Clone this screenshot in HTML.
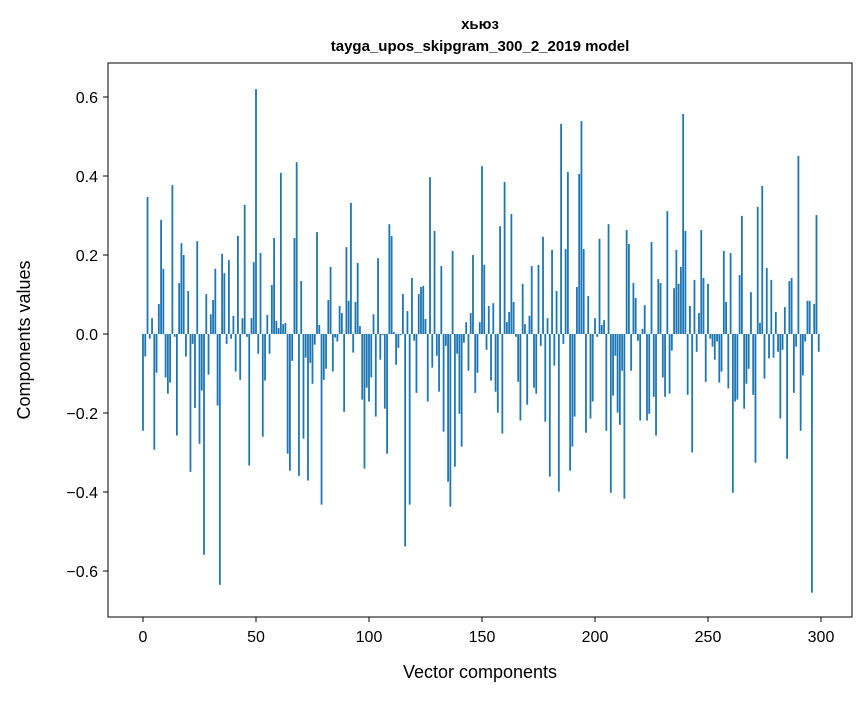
<!DOCTYPE html>
<html><head><meta charset="utf-8"><style>
body{margin:0;background:#fff;}
svg text{font-family:"Liberation Sans","DejaVu Sans",sans-serif;fill:#000;}
</style></head><body>
<svg id="chart" width="867" height="696" xmlns="http://www.w3.org/2000/svg">
<rect width="867" height="696" fill="#fff"/>
<text x="480" y="29" font-size="15" font-weight="bold" text-anchor="middle">хьюз</text>
<text x="480" y="51" font-size="15" font-weight="bold" text-anchor="middle">tayga_upos_skipgram_300_2_2019 model</text>
<g id="bars"></g>
<g id="xticks"></g>
<g id="yticks"></g>
<rect x="108" y="63" width="744" height="554" fill="none" stroke="#000" stroke-width="1"/>
<text x="480" y="678" font-size="18" text-anchor="middle">Vector components</text>
<text transform="translate(30,340) rotate(-90)" font-size="18" text-anchor="middle">Components values</text>
</svg>
<script>
const values = [
-0.245,-0.057,0.347,-0.012,0.04,-0.293,-0.098,0.076,0.289,0.165,
-0.11,-0.151,-0.123,0.377,-0.007,-0.257,0.129,0.23,0.2,-0.057,
0.109,-0.349,-0.025,-0.187,0.235,-0.278,-0.143,-0.559,0.101,-0.103,
0.05,0.086,0.165,-0.181,-0.635,0.203,0.154,-0.025,0.187,-0.012,
0.046,-0.095,0.248,-0.116,0.04,0.327,-0.007,-0.333,0.04,0.182,
0.62,-0.05,0.205,-0.26,-0.118,0.048,-0.05,0.124,0.243,0.033,
0.015,0.408,0.025,0.028,-0.303,-0.346,-0.068,0.243,0.435,-0.359,
0.134,-0.265,-0.06,-0.371,-0.073,-0.126,-0.027,0.258,0.023,-0.432,
-0.116,-0.088,0.086,0.17,-0.095,-0.009,-0.019,0.071,0.053,-0.197,
0.22,0.084,0.332,-0.047,0.081,0.18,0.02,-0.166,-0.341,-0.136,
-0.171,-0.11,0.05,-0.209,0.192,-0.065,-0.003,-0.189,-0.303,0.278,
0.248,0.005,-0.078,-0.035,-0.003,0.101,-0.538,0.058,-0.432,0.142,
-0.017,-0.149,0.101,0.119,0.122,0.038,-0.171,0.397,-0.085,0.261,
-0.055,-0.146,0.172,-0.247,-0.03,-0.374,-0.437,0.21,-0.336,-0.05,
-0.202,-0.285,-0.022,0.03,-0.093,0.053,0.2,-0.149,-0.098,0.03,
0.425,0.175,-0.04,0.071,-0.118,0.078,-0.146,-0.199,0.273,-0.252,
0.385,0.03,0.056,0.304,0.081,-0.007,-0.121,-0.219,0.127,0.025,
-0.179,0.046,0.172,-0.136,-0.151,0.175,-0.03,0.246,-0.222,0.04,
-0.361,0.213,-0.08,0.109,-0.399,0.532,-0.025,0.215,0.41,-0.346,
-0.285,-0.209,0.119,0.405,0.539,0.215,-0.25,0.096,-0.214,-0.171,
0.04,-0.007,0.241,0.023,0.035,-0.245,0.278,-0.402,-0.156,-0.055,
-0.199,-0.23,-0.093,-0.417,0.263,0.228,-0.093,0.129,0.091,-0.017,
-0.219,0.013,0.073,-0.219,-0.202,0.233,-0.159,-0.257,0.139,0.129,
-0.11,-0.159,0.311,-0.151,-0.042,0.116,0.213,0.127,0.17,0.557,
0.261,-0.154,0.071,-0.3,0.137,-0.045,0.053,0.263,0.142,-0.121,
0.127,-0.012,-0.032,-0.065,-0.019,-0.123,-0.095,0.21,0.081,-0.138,
0.205,-0.402,-0.171,-0.166,0.149,0.299,-0.189,-0.126,-0.088,0.106,
-0.154,-0.326,0.322,0.028,0.375,-0.113,0.167,-0.062,0.137,-0.06,
0.056,-0.045,-0.214,-0.04,0.068,-0.316,0.134,0.142,-0.149,-0.032,
0.451,-0.245,-0.105,-0.019,0.084,0.084,-0.655,0.076,0.301,-0.045
];
const xTickValues = [0,50,100,150,200,250,300];
const yTickValues = [-0.6,-0.4,-0.2,0.0,0.2,0.4,0.6];
const yTickLabels = ["\u22120.6","\u22120.4","\u22120.2","0.0","0.2","0.4","0.6"];

const NS="http://www.w3.org/2000/svg";
function xScale(v){return 143 + v*2.26;}
function yScale(v){return 334 - v*395;}
const bars=document.getElementById('bars');
values.forEach(function(v,i){
  const r=document.createElementNS(NS,'rect');
  const x0=xScale(i-0.4), x1=xScale(i+0.4);
  const y0=yScale(Math.max(v,0)), y1=yScale(Math.min(v,0));
  r.setAttribute('x',x0);r.setAttribute('width',x1-x0);
  r.setAttribute('y',y0);r.setAttribute('height',Math.max(y1-y0,0.01));
  r.setAttribute('fill','#1f77b4');
  
  
  bars.appendChild(r);
});
const xt=document.getElementById('xticks');
xTickValues.forEach(function(v){
  const x=xScale(v);
  const l=document.createElementNS(NS,'line');
  l.setAttribute('x1',x);l.setAttribute('x2',x);l.setAttribute('y1',617);l.setAttribute('y2',622);
  l.setAttribute('stroke','#000');
  
  
  xt.appendChild(l);
  const t=document.createElementNS(NS,'text');
  t.setAttribute('x',x);t.setAttribute('y',642);t.setAttribute('font-size','16');t.setAttribute('text-anchor','middle');
  t.textContent=String(v);
  
  
  xt.appendChild(t);
});
const yt=document.getElementById('yticks');
yTickValues.forEach(function(v,i){
  const y=yScale(v);
  const l=document.createElementNS(NS,'line');
  l.setAttribute('x1',103);l.setAttribute('x2',108);l.setAttribute('y1',y);l.setAttribute('y2',y);
  l.setAttribute('stroke','#000');
  
  
  yt.appendChild(l);
  const t=document.createElementNS(NS,'text');
  t.setAttribute('x',98);t.setAttribute('y',y+6);t.setAttribute('font-size','16');t.setAttribute('text-anchor','end');
  t.textContent=yTickLabels[i];
  
  
  yt.appendChild(t);
});
</script>
</body></html>
